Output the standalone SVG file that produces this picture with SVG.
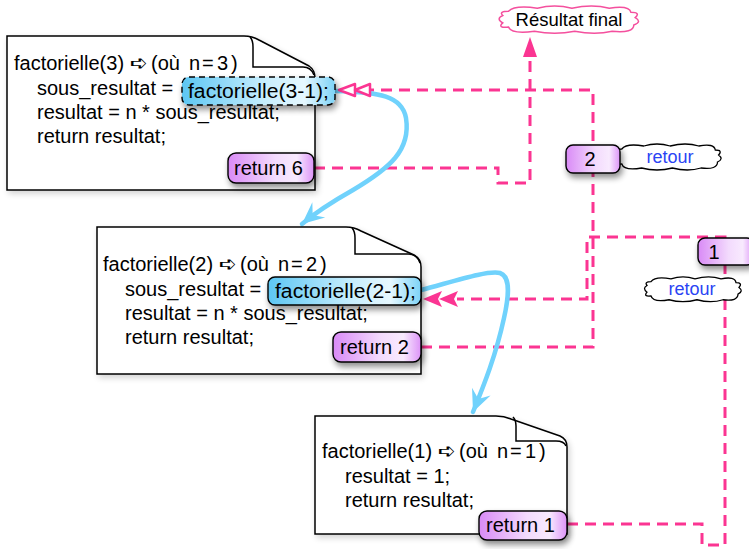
<svg xmlns="http://www.w3.org/2000/svg" width="749" height="549" viewBox="0 0 749 549">
  <style>
    .doc { fill: #ffffff; stroke: #000000; stroke-width: 1.5; }
    .flap { fill: none; stroke: #000000; stroke-width: 1.5; }
    .code { font-family: "Liberation Sans", "DejaVu Sans", sans-serif; font-size: 20px; fill: #000000; }
    .sym { font-family: "DejaVu Sans", sans-serif; font-size: 21px; }
    .call { fill: url(#blueFill); stroke: #000000; stroke-width: 1.4; }
    .ret { fill: url(#violetFill); stroke: #000000; stroke-width: 1.4; }
    .ret-link { fill: none; stroke: #fb3592; stroke-width: 3; stroke-dasharray: 11 7; }
    .call-link { fill: none; stroke: #70d2fc; stroke-width: 4.5; stroke-linecap: round; }
    .cloud-black { fill: #ffffff; stroke: #000000; stroke-width: 1.3; }
    .cloud-pink { fill: #ffffff; stroke: #f4509e; stroke-width: 1.5; }
    .retour { font-family: "Liberation Sans", sans-serif; font-size: 18px; fill: #2a44f4; }
  </style>
  <defs>
    <linearGradient id="blueFill" x1="0" y1="0" x2="1" y2="0">
      <stop offset="0" stop-color="#5cc6f3"/>
      <stop offset="0.55" stop-color="#c8eefd"/>
      <stop offset="0.8" stop-color="#e6f8ff"/>
      <stop offset="1" stop-color="#7dd3f7"/>
    </linearGradient>
    <linearGradient id="violetFill" x1="0" y1="0" x2="1" y2="0">
      <stop offset="0" stop-color="#d98af6"/>
      <stop offset="0.55" stop-color="#f3dbfd"/>
      <stop offset="0.8" stop-color="#f8eafe"/>
      <stop offset="1" stop-color="#dc93f7"/>
    </linearGradient>
    <filter id="shadow" x="-20%" y="-30%" width="150%" height="180%">
      <feGaussianBlur in="SourceAlpha" stdDeviation="3"/>
      <feOffset dx="2" dy="4" result="blur"/>
      <feComponentTransfer><feFuncA type="linear" slope="0.45"/></feComponentTransfer>
      <feMerge><feMergeNode/><feMergeNode in="SourceGraphic"/></feMerge>
    </filter>
    <filter id="softShadow" x="-10%" y="-10%" width="125%" height="130%">
      <feGaussianBlur in="SourceAlpha" stdDeviation="3"/>
      <feOffset dx="2" dy="3" result="blur"/>
      <feComponentTransfer><feFuncA type="linear" slope="0.18"/></feComponentTransfer>
      <feMerge><feMergeNode/><feMergeNode in="SourceGraphic"/></feMerge>
    </filter>
    <!-- cloud outline in a 100 x 28 box -->
    <path id="cloudShape" vector-effect="non-scaling-stroke" d="M4,10 Q1,6 8,6 Q12,0 28,3 Q40,-1 52,3 Q66,-1 78,3 Q92,0 93,7 Q100,7 96,12 Q101,16 95,19 Q95,27 80,25 Q68,29 54,25 Q40,29 26,25 Q10,28 8,21 Q0,22 4,17 Q-1,13 4,10 Z"/>
    <marker id="blueHead" markerUnits="userSpaceOnUse" viewBox="-24 -12 28 24" refX="0" refY="0" markerWidth="28" markerHeight="24" orient="auto">
      <path d="M0,0 L-22,-10 L-14,0 L-22,10 Z" fill="#70d2fc"/>
    </marker>
  </defs>

  <!-- connectors -->
  <g id="connectors">
    <!-- return values climbing back up -->
    <path class="ret-link" d="M314,168 H498 V183 H530 V56"/>
    <path class="ret-link" d="M421,347 H593 V90 H370"/>
    <path class="ret-link" d="M567,524 H702 V545 H725 V237 H587 V299 H457"/>
    <!-- recursive calls -->
    <path class="call-link" d="M335,91 C380,92 402,96 406,118 C411,150 390,168 353,190 C330,203 315,213 302,224" marker-end="url(#blueHead)"/>
    <path class="call-link" d="M421,290 C455,281 488,270 500,273 C512,277 508,300 504,318 C496,355 484,385 473,412" marker-end="url(#blueHead)"/>
    <!-- arrowheads -->
    <polygon points="530,37 523,57 537,57" fill="#fb3592"/>
    <polygon points="339,90 355,84 355,96" fill="#ffffff" stroke="#fb3592" stroke-width="2.5" stroke-linejoin="round"/>
    <polygon points="355,90 370,84 370,96" fill="#ffffff" stroke="#fb3592" stroke-width="2.5" stroke-linejoin="round"/>
    <polygon points="423,299 442,291 438,299 442,307" fill="#fb3592"/>
    <polygon points="439,299 458,291 454,299 458,307" fill="#fb3592"/>
  </g>

  <!-- factorielle(3) -->
  <g id="node-f3">
    <g filter="url(#softShadow)">
      <path class="doc" d="M7,36 H244 Q252,36 259,40 L309,66 Q315,70 315,78 V190 H7 Z"/>
    </g>
    <path class="flap" d="M250,37 Q253,40 253,47 V67 H303 Q311,67 314,75"/>
    <text class="code" x="14" y="70">factorielle(3) <tspan class="sym" x="130">➪</tspan><tspan x="151">(où</tspan><tspan x="189">n</tspan><tspan x="202">=</tspan><tspan x="217">3</tspan><tspan x="231">)</tspan></text>
    <text class="code" x="37" y="95">sous_resultat =</text>
    <text class="code" x="37" y="119">resultat = n * sous_resultat;</text>
    <text class="code" x="37" y="143">return resultat;</text>
    <rect class="call" x="182" y="77" width="153" height="28" rx="7" filter="url(#shadow)" stroke-dasharray="6 4"/>
    <text class="code" x="188" y="98" textLength="141" lengthAdjust="spacingAndGlyphs">factorielle(3-1);</text>
    <rect class="ret" x="228" y="153" width="86" height="30" rx="8" filter="url(#shadow)"/>
    <text class="code" x="234" y="175">return 6</text>
  </g>

  <!-- factorielle(2) -->
  <g id="node-f2">
    <g filter="url(#softShadow)">
      <path class="doc" d="M97,227 H346 Q354,227 361,231 L414,255 Q421,259 421,267 V374 H97 Z"/>
    </g>
    <path class="flap" d="M352,228 Q355,231 355,238 V254 H408 Q417,254 420,263"/>
    <text class="code" x="103" y="271">factorielle(2) <tspan class="sym" x="219">➪</tspan><tspan x="240">(où</tspan><tspan x="278">n</tspan><tspan x="291">=</tspan><tspan x="306">2</tspan><tspan x="320">)</tspan></text>
    <text class="code" x="125" y="296">sous_resultat =</text>
    <text class="code" x="125" y="320">resultat = n * sous_resultat;</text>
    <text class="code" x="125" y="344">return resultat;</text>
    <rect class="call" x="268" y="277" width="153" height="28" rx="7" filter="url(#shadow)"/>
    <text class="code" x="275" y="298" textLength="141" lengthAdjust="spacingAndGlyphs">factorielle(2-1);</text>
    <rect class="ret" x="333" y="332" width="88" height="30" rx="8" filter="url(#shadow)"/>
    <text class="code" x="340" y="354">return 2</text>
  </g>

  <!-- factorielle(1) -->
  <g id="node-f1">
    <g filter="url(#softShadow)">
      <path class="doc" d="M315,416 H496 Q504,416 511,419 L560,436 Q567,439 567,447 V534 H315 Z"/>
    </g>
    <path class="flap" d="M513,417 Q516,420 516,426 V441 H556 Q564,441 566,446"/>
    <text class="code" x="322" y="458">factorielle(1) <tspan class="sym" x="438">➪</tspan><tspan x="459">(où</tspan><tspan x="497">n</tspan><tspan x="510">=</tspan><tspan x="525">1</tspan><tspan x="539">)</tspan></text>
    <text class="code" x="345" y="483">resultat = 1;</text>
    <text class="code" x="345" y="507">return resultat;</text>
    <rect class="ret" x="479" y="511" width="88" height="29" rx="8" filter="url(#shadow)"/>
    <text class="code" x="486" y="532">return 1</text>
  </g>

  <!-- final result bubble -->
  <g id="result-final">
    <use href="#cloudShape" class="cloud-pink" transform="translate(497,5) scale(1.44,1.05)"/>
    <text x="569" y="26" text-anchor="middle" font-family="Liberation Sans, sans-serif" font-size="18.5" fill="#000000">Résultat final</text>
  </g>

  <!-- return label 2 -->
  <g id="label-2">
    <use href="#cloudShape" class="cloud-black" transform="translate(613,143) scale(1.1,1)"/>
    <text class="retour" x="670" y="163" text-anchor="middle">retour</text>
    <rect class="ret" x="566" y="145" width="54" height="28" rx="7" filter="url(#shadow)"/>
    <text class="code" x="590" y="166" text-anchor="middle">2</text>
  </g>

  <!-- return label 1 -->
  <g id="label-1">
    <use href="#cloudShape" class="cloud-black" transform="translate(643,276) scale(1.0,0.95)"/>
    <text class="retour" x="692" y="295" text-anchor="middle">retour</text>
    <rect class="ret" x="698" y="238" width="56" height="27" rx="7" filter="url(#shadow)"/>
    <text class="code" x="714" y="259" text-anchor="middle">1</text>
  </g>
</svg>
